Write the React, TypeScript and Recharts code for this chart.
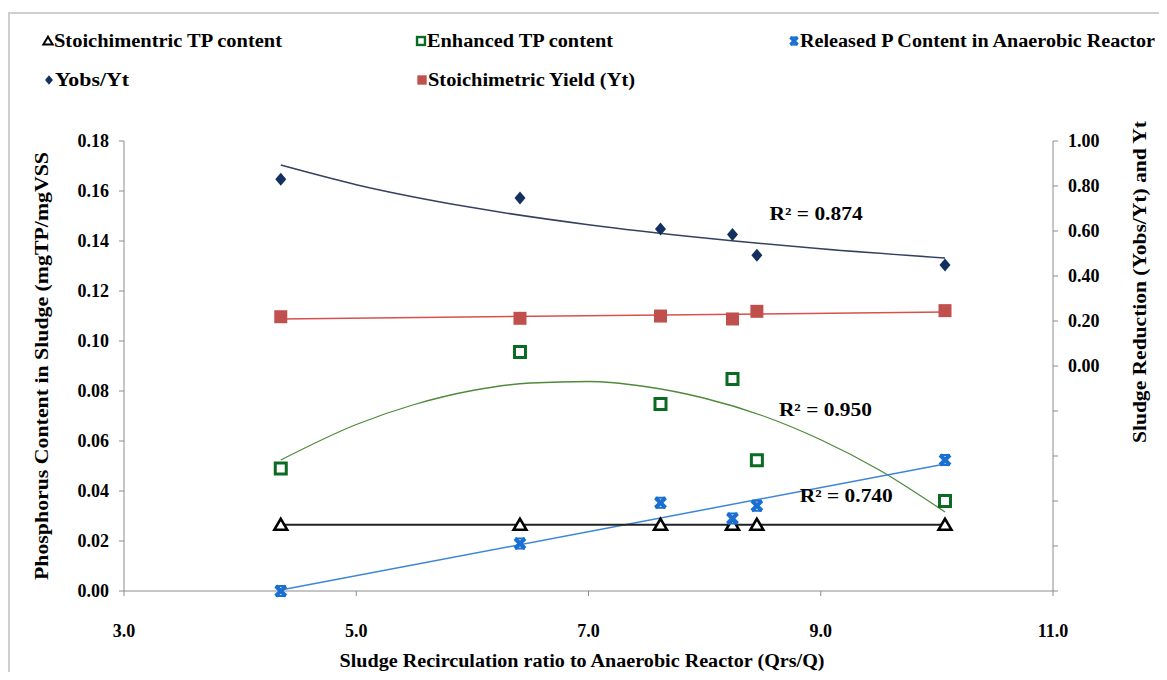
import React from "react";
import {
	ComposedChart,
	Label,
	Line,
	ReferenceDot,
	Scatter,
	XAxis,
	YAxis,
} from "recharts";

// measured points (x = Qrs/Q)
const ratio = [4.35, 6.41, 7.62, 8.24, 8.45, 10.07];
const stoichTP = [0.0265, 0.0265, 0.0265, 0.0265, 0.0265, 0.0265];
const enhancedTP = [0.049, 0.0956, 0.0748, 0.0848, 0.0523, 0.036];
const releasedP = [0.0, 0.019, 0.0353, 0.029, 0.0341, 0.0524];
const yobsYt = [0.83, 0.747, 0.609, 0.585, 0.492, 0.449];
const stoichYield = [0.219, 0.212, 0.222, 0.209, 0.243, 0.246];

// trend lines
const yobsTrendX = [4.35, 5, 6, 7, 8, 9, 10.07];
const yobsTrendY = [0.893, 0.806, 0.704, 0.628, 0.569, 0.521, 0.48];
const enhancedTrendX = [4.35, 5, 5.5, 6, 6.5, 7, 7.5, 8, 8.5, 9, 9.5, 10.07];
const enhancedTrendY = [
	0.0524, 0.0666, 0.0746, 0.0802, 0.0832, 0.0838, 0.0817, 0.0771, 0.0701,
	0.0605, 0.0485, 0.0316,
];
const releasedTrendX = [4.35, 10.07];
const releasedTrendY = [0.0004, 0.0508];
const yieldTrendX = [4.35, 10.07];
const yieldTrendY = [0.209, 0.24];

const xTicks = [3, 5, 7, 9, 11];
const leftTicks = [0, 0.02, 0.04, 0.06, 0.08, 0.1, 0.12, 0.14, 0.16, 0.18];
const rightTicks = [-1, -0.8, -0.6, -0.4, -0.2, 0, 0.2, 0.4, 0.6, 0.8, 1];

const FONT = '"Liberation Serif", "Times New Roman", serif';
const NAVY = "#14305f";
const RED = "#c0504d";
const GREEN = "#0b6b22";
const BLUE = "#1a6fd0";
const AXIS = "#8c8c8c";

const pts = (xs: number[], ys: number[]) => xs.map((x, i) => ({ x, y: ys[i] }));

const tickStyle = {
	fill: "#000",
	fontSize: 18,
	fontWeight: "bold",
	fontFamily: FONT,
};

// bold serif text squeezed/stretched to the width seen in the picture
function SText({ x, y, text, len, size = 18, anchor = "middle", rotate = false }: any) {
	return (
		<text
			x={x}
			y={y}
			textAnchor={anchor}
			dominantBaseline="central"
			fontFamily={FONT}
			fontWeight="bold"
			fontSize={size}
			fill="#000"
			textLength={len}
			lengthAdjust="spacingAndGlyphs"
			transform={rotate ? `rotate(-90 ${x} ${y})` : undefined}
		>
			{text}
		</text>
	);
}

function Tri({ cx, cy, s = 1 }: any) {
	return (
		<polygon
			points={`${cx},${cy - 6 * s} ${cx - 6.5 * s},${cy + 5 * s} ${cx + 6.5 * s},${cy + 5 * s}`}
			fill="#fff"
			stroke="#000"
			strokeWidth={2.5 * Math.max(s, 0.8)}
		/>
	);
}

function OpenSquare({ cx, cy, s = 1 }: any) {
	const h = 5.5 * s;
	return (
		<rect x={cx - h} y={cy - h} width={2 * h} height={2 * h} fill="#fff" stroke={GREEN} strokeWidth={3 * Math.max(s, 0.8)} />
	);
}

function FilledSquare({ cx, cy, s = 1 }: any) {
	const h = 6.5 * s;
	return <rect x={cx - h} y={cy - h} width={2 * h} height={2 * h} fill={RED} />;
}

function Diamond({ cx, cy, s = 1 }: any) {
	return (
		<polygon
			points={`${cx},${cy - 6.5 * s} ${cx + 5.5 * s},${cy} ${cx},${cy + 6.5 * s} ${cx - 5.5 * s},${cy}`}
			fill={NAVY}
		/>
	);
}

function Cross({ cx, cy, s = 1 }: any) {
	const h = 5 * s;
	return (
		<g stroke={BLUE} strokeWidth={4 * Math.max(s, 0.8)}>
			<line x1={cx - h} y1={cy - h} x2={cx + h} y2={cy + h} />
			<line x1={cx - h} y1={cy + h} x2={cx + h} y2={cy - h} />
			<line x1={cx - h} y1={cy - h} x2={cx + h} y2={cy - h} strokeWidth={2} />
			<line x1={cx - h} y1={cy + h} x2={cx + h} y2={cy + h} strokeWidth={2} />
		</g>
	);
}

function rLabel(text: string) {
	return (props: any) => {
		const vb = props.viewBox;
		return <SText x={vb.x + vb.width / 2} y={vb.y + vb.height / 2} text={text} len={93} />;
	};
}

const legendItems = [
	{ name: "Stoichimentric TP content", icon: Tri, x: 48, y: 41, len: 228 },
	{ name: "Enhanced TP content", icon: OpenSquare, x: 421, y: 41, len: 186 },
	{ name: "Released P Content in Anaerobic Reactor", icon: Cross, x: 794, y: 41, len: 355 },
	{ name: "Yobs/Yt", icon: Diamond, x: 49, y: 80, len: 74 },
	{ name: "Stoichimetric Yield (Yt)", icon: FilledSquare, x: 422, y: 80, len: 207 },
];

export default function App() {
	return (
		<div
			style={{
				position: "relative",
				margin: -8,
				width: 1167,
				height: 680,
				overflow: "hidden",
				background: "#fff",
			}}
		>
			<div
				style={{
					position: "absolute",
					left: 8,
					top: 12,
					width: 1300,
					height: 800,
					border: "2px solid #cfcfcf",
				}}
			/>
			<svg width={1167} height={110} style={{ position: "absolute", left: 0, top: 0 }}>
				{legendItems.map((l) => {
					const Icon = l.icon;
					return (
						<g key={l.name}>
							<Icon cx={l.x} cy={l.y} s={0.72} />
							<SText x={l.x + 6} y={l.y} text={l.name} len={l.len} anchor="start" />
						</g>
					);
				})}
			</svg>
			<div style={{ position: "absolute", left: 0, top: 0 }}>
				<ComposedChart
					width={1167}
					height={680}
					margin={{ top: 141, right: 0, bottom: 0, left: 0 }}
				>
					<XAxis
						type="number"
						dataKey="x"
						domain={[3, 11]}
						ticks={xTicks}
						interval={0}
						tickFormatter={(v: number) => v.toFixed(1)}
						stroke={AXIS}
						tick={tickStyle}
						tickSize={5}
						tickMargin={28}
						height={89}
					>
						<Label
							content={() => (
								<SText
									x={582}
									y={661}
									text="Sludge Recirculation ratio to Anaerobic Reactor (Qrs/Q)"
									len={485}
								/>
							)}
						/>
					</XAxis>
					<YAxis
						yAxisId="left"
						type="number"
						domain={[0, 0.18]}
						ticks={leftTicks}
						interval={0}
						tickFormatter={(v: number) => v.toFixed(2)}
						stroke={AXIS}
						tick={tickStyle}
						tickSize={5}
						tickMargin={10}
						width={124}
					>
						<Label
							content={() => (
								<SText
									x={42}
									y={366}
									text="Phosphorus Content in Sludge (mgTP/mgVSS"
									len={428}
									rotate
								/>
							)}
						/>
					</YAxis>
					<YAxis
						yAxisId="right"
						orientation="right"
						type="number"
						domain={[-1, 1]}
						ticks={rightTicks}
						interval={0}
						tickFormatter={(v: number) => (v >= -0.001 ? Math.abs(v).toFixed(2) : "")}
						stroke={AXIS}
						tick={tickStyle}
						tickSize={5}
						tickMargin={10}
						width={114}
					>
						<Label
							content={() => (
								<SText
									x={1140}
									y={282}
									text="Sludge Reduction (Yobs/Yt) and Yt"
									len={322}
									rotate
								/>
							)}
						/>
					</YAxis>

					{/* trend lines */}
					<Line
						yAxisId="right"
						data={pts(yobsTrendX, yobsTrendY)}
						dataKey="y"
						type="monotone"
						stroke="#34425f"
						strokeWidth={1.5}
						dot={false}
						isAnimationActive={false}
					/>
					<Line
						yAxisId="right"
						data={pts(yieldTrendX, yieldTrendY)}
						dataKey="y"
						type="linear"
						stroke="#d8504c"
						strokeWidth={1.5}
						dot={false}
						isAnimationActive={false}
					/>
					<Line
						yAxisId="left"
						data={pts(enhancedTrendX, enhancedTrendY)}
						dataKey="y"
						type="monotone"
						stroke="#4e8a3a"
						strokeWidth={1.3}
						dot={false}
						isAnimationActive={false}
					/>
					<Line
						yAxisId="left"
						data={pts(releasedTrendX, releasedTrendY)}
						dataKey="y"
						type="linear"
						stroke="#3d86d6"
						strokeWidth={1.5}
						dot={false}
						isAnimationActive={false}
					/>
					<Line
						yAxisId="left"
						data={pts(ratio, stoichTP)}
						dataKey="y"
						type="linear"
						stroke="#222"
						strokeWidth={2}
						dot={false}
						isAnimationActive={false}
					/>

					{/* markers */}
					<Scatter
						yAxisId="right"
						data={pts(ratio, yobsYt)}
						dataKey="y"
						shape={(p: any) => <Diamond cx={p.cx} cy={p.cy} />}
						isAnimationActive={false}
					/>
					<Scatter
						yAxisId="right"
						data={pts(ratio, stoichYield)}
						dataKey="y"
						shape={(p: any) => <FilledSquare cx={p.cx} cy={p.cy} />}
						isAnimationActive={false}
					/>
					<Scatter
						yAxisId="left"
						data={pts(ratio, enhancedTP)}
						dataKey="y"
						shape={(p: any) => <OpenSquare cx={p.cx} cy={p.cy} />}
						isAnimationActive={false}
					/>
					<Scatter
						yAxisId="left"
						data={pts(ratio, stoichTP)}
						dataKey="y"
						shape={(p: any) => <Tri cx={p.cx} cy={p.cy} />}
						isAnimationActive={false}
					/>
					<Scatter
						yAxisId="left"
						data={pts(ratio, releasedP)}
						dataKey="y"
						shape={(p: any) => <Cross cx={p.cx} cy={p.cy} />}
						isAnimationActive={false}
					/>

					<ReferenceDot
						yAxisId="right"
						x={8.96}
						y={0.676}
						r={1}
						fill="none"
						stroke="none"
						label={rLabel("R² = 0.874")}
					/>
					<ReferenceDot
						yAxisId="left"
						x={9.04}
						y={0.0724}
						r={1}
						fill="none"
						stroke="none"
						label={rLabel("R² = 0.950")}
					/>
					<ReferenceDot
						yAxisId="left"
						x={9.22}
						y={0.038}
						r={1}
						fill="none"
						stroke="none"
						label={rLabel("R² = 0.740")}
					/>
				</ComposedChart>
			</div>
		</div>
	);
}
